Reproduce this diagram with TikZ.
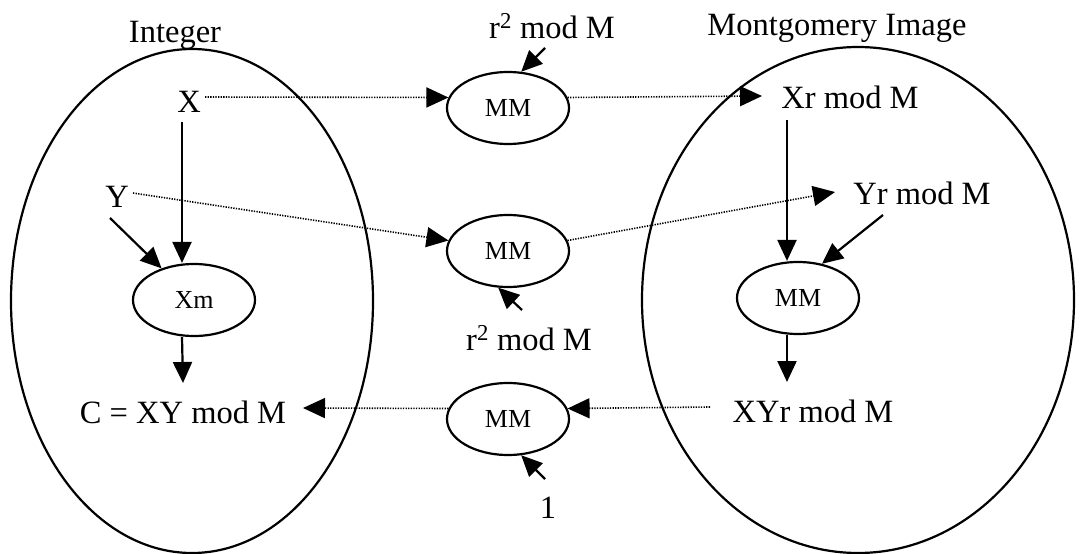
\documentclass[tikz,border=0pt]{standalone}
\usepackage{fontspec}
\setmainfont{Liberation Serif}
\usetikzlibrary{arrows.meta,shapes.geometric}
\begin{document}
\begin{tikzpicture}[x=1pt,y=-1pt,
  lbl/.style={inner sep=0pt,anchor=base,font=\fontsize{32.5}{35}\selectfont},
  op/.style={draw,ellipse,line width=2.2pt,minimum width=122pt,minimum height=72pt,inner sep=0pt,font=\fontsize{26}{28}\selectfont},
  region/.style={draw,ellipse,line width=2.2pt,inner sep=0pt},
  arr/.style={line width=2.2pt,-{Triangle[length=21pt,width=19pt]}},
  dotarr/.style={line width=1.6pt,dash pattern=on 1.3pt off 1.3pt,-{Triangle[length=22pt,width=20pt]}}]
\useasboundingbox (0,0) rectangle (1080,554);
% regions
\node[region,minimum width=362pt,minimum height=504pt] (intset) at (192,301) {};
\node[region,minimum width=432pt,minimum height=506pt] (monset) at (858,300) {};
% labels
\node[lbl] (integer) at (175,42) {Integer};
\node[lbl] (rtop) at (552,38) {r\textsuperscript{2} mod M};
\node[lbl] (mont) at (837,35) {Montgomery Image};
\node[lbl] (X) at (189,112) {X};
\node[lbl] (Y) at (117,207) {Y};
\node[lbl] (C) at (183,423) {C = XY mod M};
\node[lbl] (Xr) at (850,108) {Xr mod M};
\node[lbl] (Yr) at (922,204) {Yr mod M};
\node[lbl] (XYr) at (813,422) {XYr mod M};
\node[lbl] (rmid) at (529,350) {r\textsuperscript{2} mod M};
\node[lbl] (one) at (548,518) {1};
% operators
\node[op] (Xm) at (194,300) {Xm};
\node[op] (MM1) at (508,108) {MM};
\node[op] (MM2) at (508,251) {MM};
\node[op] (MM3) at (508,419) {MM};
\node[op] (MM4) at (798,298) {MM};
% free ends
\coordinate (xs) at (182,122);
\coordinate (ys) at (110,218);
\coordinate (cs) at (183,383);
\coordinate (xe) at (205,97);
\coordinate (xre) at (762,96);
\coordinate (ye) at (133,193);
\coordinate (yre) at (835,192);
\coordinate (rts) at (545,48);
\coordinate (rms) at (522,310);
\coordinate (xyrs) at (710,407);
\coordinate (ce) at (303,408);
\coordinate (ones) at (545,479);
\coordinate (xrs) at (787,120);
\coordinate (yrs) at (883,215);
\coordinate (xyre) at (787,382);
% integer side
\draw[arr] (xs) -- (xs |- Xm.north);
\draw[arr] (ys) -- (Xm);
\draw[arr] (Xm.south -| xs) -- (cs);
% conversions
\draw[dotarr] (xe) -- (MM1.170);
\draw[dotarr] (MM1.10) -- (xre);
\draw[arr] (rts) -- (MM1.70);
\draw[dotarr] (ye) -- (MM2.170);
\draw[dotarr] (MM2.10) -- (yre);
\draw[arr] (rms) -- (MM2.255);
\draw[dotarr] (xyrs) -- (MM3.10);
\draw[dotarr] (MM3.170) -- (ce);
\draw[arr] (ones) -- (MM3.290);
% montgomery side
\draw[arr] (xrs) -- (xrs |- MM4.north);
\draw[arr] (yrs) -- (MM4.55);
\draw[arr] (MM4.south -| xrs) -- (xyre);
\end{tikzpicture}
\end{document}
